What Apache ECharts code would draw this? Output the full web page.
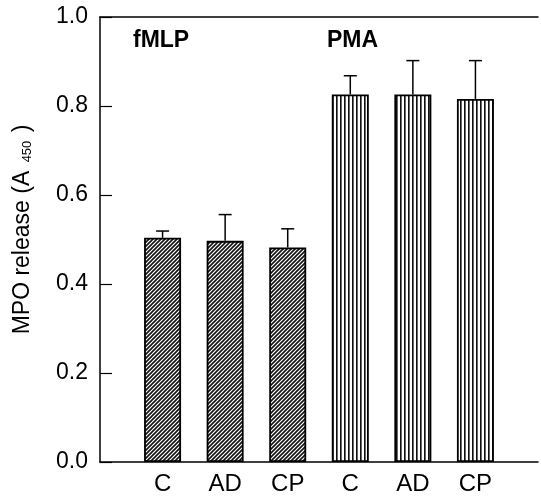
<!DOCTYPE html>
<html>
<head>
<meta charset="utf-8">
<script src="https://cdn.jsdelivr.net/npm/echarts@6/dist/echarts.min.js"></script>
<style>
  html, body { margin: 0; padding: 0; background: #fff; }
  #chart { width: 541px; height: 502px; }
</style>
</head>
<body>
<div id="chart"></div>
<script>
// categories (blank slots at both ends keep the bars off the axes)
const categories = ['', 'C', 'AD', 'CP', 'C', 'AD', 'CP', ''];
const fmlpMeans = [0.504, 0.497, 0.482];
const fmlpErr = [0.015, 0.059, 0.042];
const pmaMeans = [0.826, 0.826, 0.816];
const pmaErr = [0.042, 0.076, 0.086];
const yTicks = [0, 0.2, 0.4, 0.6, 0.8, 1.0];

// fill patterns: diagonal hatch for fMLP, vertical stripes for PMA
function hatchCanvas() {
  const s = 4;
  const c = document.createElement('canvas');
  c.width = s; c.height = s;
  const ctx = c.getContext('2d');
  ctx.fillStyle = '#fff';
  ctx.fillRect(0, 0, s, s);
  ctx.strokeStyle = '#111';
  ctx.lineWidth = 1.6;
  ctx.beginPath();
  ctx.moveTo(0, s); ctx.lineTo(s, 0);
  ctx.moveTo(-1, 1); ctx.lineTo(1, -1);
  ctx.moveTo(s - 1, s + 1); ctx.lineTo(s + 1, s - 1);
  ctx.stroke();
  return c;
}
function stripeCanvas() {
  const c = document.createElement('canvas');
  c.width = 4; c.height = 1;
  const ctx = c.getContext('2d');
  ctx.fillStyle = '#fff';
  ctx.fillRect(0, 0, 4, 1);
  ctx.fillStyle = '#111';
  ctx.fillRect(0, 0, 1, 1);
  ctx.fillStyle = '#666';
  ctx.fillRect(1, 0, 1, 1);
  return c;
}
const hatch = { image: hatchCanvas(), repeat: 'repeat' };
const stripes = { image: stripeCanvas(), repeat: 'repeat' };

const barData = ['-'];
const errData = [];
fmlpMeans.forEach((m, i) => {
  barData.push({ value: m, itemStyle: { color: hatch } });
  errData.push([i + 1, m, m + fmlpErr[i]]);
});
pmaMeans.forEach((m, i) => {
  barData.push({ value: m, itemStyle: { color: stripes } });
  errData.push([i + 4, m, m + pmaErr[i]]);
});
barData.push('-');

const chart = echarts.init(document.getElementById('chart'), null, { renderer: 'canvas' });
const font = 'Liberation Sans, Arial, Helvetica, sans-serif';
const axisLine = { lineStyle: { color: '#000', width: 1.5 } };

chart.setOption({
  animation: false,
  backgroundColor: '#fff',
  grid: { left: 100, top: 17, width: 444, height: 445 },
  xAxis: [
    {
      type: 'category',
      data: categories,
      boundaryGap: false,
      axisLine: axisLine,
      axisTick: { show: false },
      axisLabel: { interval: 0, color: '#000', fontSize: 24, fontFamily: font, margin: 10 },
      splitLine: { show: false }
    },
    {
      // top frame line only
      type: 'category',
      data: categories,
      boundaryGap: false,
      position: 'top',
      axisLine: axisLine,
      axisTick: { show: false },
      axisLabel: { show: false },
      splitLine: { show: false }
    }
  ],
  yAxis: {
    type: 'value',
    min: 0, max: 1, interval: 0.2,
    axisLine: { show: true, lineStyle: { color: '#000', width: 1.5 } },
    axisTick: { show: true, inside: true, length: 12, lineStyle: { color: '#000', width: 1.2 } },
    axisLabel: {
      color: '#000', fontSize: 23, fontFamily: font, margin: 12,
      formatter: v => yTicks.includes(+v.toFixed(1)) ? v.toFixed(1) : ''
    },
    splitLine: { show: false },
    name: '{m|MPO release (A }{s|450}{m| )}',
    nameLocation: 'middle',
    nameGap: 66,
    nameRotate: 90,
    nameTextStyle: {
      padding: [0, 0, 0, 20],
      rich: {
        m: { fontSize: 23, fontFamily: font, color: '#000' },
        s: { fontSize: 13, fontFamily: font, color: '#000', padding: [10, 2, 0, 2] }
      }
    }
  },
  graphic: [
    { type: 'text', left: 133, top: 29, style: { text: 'fMLP', font: 'bold 23px ' + font, fill: '#000' } },
    { type: 'text', left: 327, top: 29, style: { text: 'PMA', font: 'bold 23px ' + font, fill: '#000' } }
  ],
  series: [
    {
      type: 'bar',
      data: barData,
      barWidth: 37,
      itemStyle: { borderColor: '#000', borderWidth: 1.8 },
      z: 2
    },
    {
      type: 'custom',
      data: errData,
      z: 3,
      renderItem: (params, api) => {
        const base = api.coord([api.value(0), api.value(1)]);
        const top = api.coord([api.value(0), api.value(2)]);
        const half = 6.5;
        const style = { stroke: '#000', lineWidth: 1.5 };
        return {
          type: 'group',
          children: [
            { type: 'line', shape: { x1: base[0], y1: base[1], x2: top[0], y2: top[1] }, style },
            { type: 'line', shape: { x1: top[0] - half, y1: top[1], x2: top[0] + half, y2: top[1] }, style }
          ]
        };
      }
    }
  ]
});
</script>
</body>
</html>
